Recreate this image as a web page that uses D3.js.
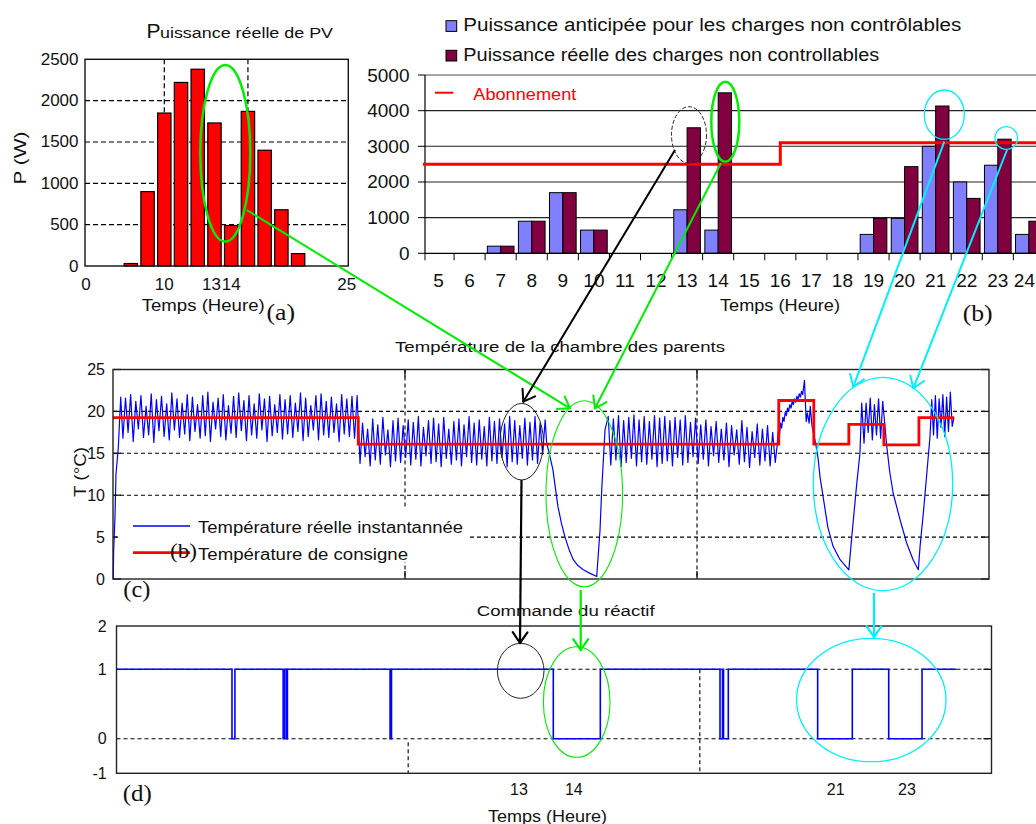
<!DOCTYPE html>
<html><head><meta charset="utf-8">
<script src="https://cdnjs.cloudflare.com/ajax/libs/d3/7.8.5/d3.min.js"></script>
<style>
body{margin:0;background:#fff;}
svg{display:block;}
text{font-family:"Liberation Sans",Arial,sans-serif;fill:#111;}
</style></head><body>
<svg id="chart" width="1036" height="824"></svg>
<script>
// ---------------- DATA ----------------
// (a) Puissance réelle de PV
const pvHours = [8,9,10,11,12,13,14,15,16,17,18];
const pvPower = [30,900,1850,2220,2380,1730,490,1870,1400,680,150];
const pvYTicks = [0,500,1000,1500,2000,2500];
const pvGridHours = [10,15];
const pvXTickHours = [10,13,14];
const pvEdgeLabels = ["0","25"];

// (b) Charges non contrôlables
const loadHours = [5,6,7,8,9,10,11,12,13,14,15,16,17,18,19,20,21,22,23,24];
const loadForecast = [0,0,200,900,1700,650,0,0,1220,650,0,0,0,0,530,980,3000,2000,2470,530];
const loadActual   = [0,0,200,900,1700,650,0,0,3520,4500,0,0,0,0,980,2430,4130,1540,3200,900];
const aboHours  = [4.5,16,16,24.5];
const aboValues = [2500,2500,3100,3100];
const loadYTicks = [0,1000,2000,3000,4000,5000];

// (c) Température de la chambre des parents (time in minutes)
const tempYTicks = [0,5,10,15,20,25];
const tempXGrid = [500,1000];
const tempStart = [[0,0],[0.5,0],[1.1,3.4],[3.4,7.4],[5.1,12.5],[9.1,15.7],[13.2,21.7]];
const seg1Span = [17,418];
const seg1Troughs = [16.8,17.5,16.4,17.9,16.9,17.2,16.3,17.7,17.0,16.6,17.8,16.9,17.3,16.5,17.6,16.8,17.1,16.4,17.9,17.0,16.6,17.4,16.9,17.7,16.5,17.2,16.8,17.8,16.4,17.1,17.5,16.7,17.3,16.9,17.6,16.5,17.0,17.8,16.6,17.2,16.9,17.5,16.4,17.3,17.0,16.8];
const seg1Peaks   = [21.6,22.0,21.2,21.9,20.6,22.1,21.4,21.8,20.9,22.2,21.5,21.0,22.0,21.7,20.8,21.9,22.3,21.1,21.6,22.0,20.7,21.8,22.2,21.3,21.9,20.9,22.1,21.5,21.8,20.8,22.0,21.4,21.9,21.0,22.2,21.6,20.7,21.9,22.1,21.2,21.7,20.9,22.0,21.5,21.8,21.9];
const seg2Span = [423,740];
const seg2Troughs = [13.8,14.6,13.5,14.2,13.7,14.8,13.4,14.1,13.9,14.5,13.6,14.3,13.5,14.7,13.8,14.0,13.4,14.4,13.7,14.2,13.5,14.6,13.9,13.6,14.3,13.5,14.1,13.8,14.5,13.4,14.0,13.7,14.4,13.6,14.2,13.8,14.9];
const seg2Peaks   = [18.6,17.9,19.1,18.4,19.3,17.8,18.9,19.2,18.3,19.0,18.7,19.4,18.1,18.9,19.2,18.5,19.3,17.9,18.8,19.1,18.4,19.4,18.6,19.0,18.2,19.3,18.8,19.1,18.5,19.4,18.9,18.3,19.2,18.7,19.4,18.6,19.0];
const tempFall1 = [[742.6,16.2],[747,15.0],[753.4,13],[758,10.6],[762,8.6],[768,6.6],[774,5.0],[781,3.5],[788.2,2.3],[796,1.6],[805.3,1.1],[816,0.7],[828.3,0.3],[833.9,5.8],[836.8,10.6],[842.5,17.8]];
const seg3Span = [848,1134];
const seg3Peaks   = [19.4,19.1,19.5,18.9,19.3,19.6,19.0,19.4,18.8,19.5,19.2,19.4,18.9,19.3,19.0,19.5,18.7,19.2,18.4,19.0,18.2,18.8,17.9,18.6,18.3,17.8,18.9,18.1,17.6,18.5,17.9,18.3,17.5];
const seg3Troughs = [13.6,14.2,13.4,13.9,14.4,13.5,14.0,13.7,14.3,13.4,13.8,14.1,13.5,14.5,13.6,13.9,14.6,13.8,14.3,13.5,14.7,13.9,14.2,13.4,14.8,13.7,14.0,13.3,14.5,13.6,14.1,13.5,13.9];
const tempRamp = [[1137,15.8],[1139,17.6],[1141,16.9],[1143,18.6],[1145,18.0],[1147,19.3],[1149,18.8],[1151,19.9],[1153,19.5],[1155,20.4],[1157,20.0],[1159,20.8],[1161,20.4],[1163,21.2],[1165,20.8],[1167,21.5],[1169,21.1],[1171,21.8],[1173,21.4],[1175,22.1],[1177,21.7],[1179,22.4],[1181,22.0],[1184,23.7],[1187,18.8],[1189,19.8],[1192,18.6],[1194,20.6],[1197,18.2]];
const tempFall2 = [[1202,16.6],[1207,14.6],[1211,12.0],[1216,9.8],[1224,6.2],[1233,3.9],[1245,2.3],[1260,1.1],[1265,5.0],[1273,11],[1279,15],[1282,21]];
const seg4Span = [1286,1318];
const seg4Troughs = [16.2,17.5,16.6,17.2,16.8];
const seg4Peaks   = [21.0,21.6,20.8,21.5,21.2];
const tempFall3 = [[1325,15.8],[1330,12.8],[1336,10.2],[1348,7.0],[1359,4.3],[1370,2.3],[1379,1.1],[1382,3.9],[1388,8.2],[1393,12.2],[1399,17],[1402,21.4]];
const seg5Span = [1405,1437];
const seg5Troughs = [17.2,16.8,18.1,17.0,17.6,18.2];
const seg5Peaks   = [21.9,21.5,22.0,21.7,22.3];
const tempEnd = [[1440,19.3]];
const setTimes  = [0,420,1140,1200,1260,1320,1380,1440];
const setValues = [19.25,16.1,21.3,16.1,18.45,16.0,19.25,19.25];

// (d) Commande du réactif
const cmdOffStart = [198,285.7,291.7,469,748.8,1034.6,1040.6,1202,1323.8];
const cmdOffEnd   = [203,288.5,293,471.4,829.4,1038.9,1048.8,1261.4,1380.9];
const cmdEndTime = 1440;
const cmdYTicks = [-1,0,1,2];
const cmdTickMinutes = [690,784,1233,1355];
const cmdTickLabels = ["13","14","21","23"];

// ---------------- DRAW ----------------
const svg = d3.select("#chart");
const SERIF = '"Liberation Serif","Times New Roman",serif';

function T(g, x, y, s, o = {}) {
  const t = g.append("text").attr("x", x).attr("y", y).text(s)
    .attr("font-size", o.size || 16)
    .attr("text-anchor", o.anchor || "start");
  if (o.fill) t.style("fill", o.fill);
  if (o.serif) t.style("font-family", SERIF);
  if (o.len) t.attr("textLength", o.len).attr("lengthAdjust", "spacingAndGlyphs");
  if (o.rot) t.attr("transform", `rotate(${o.rot},${x},${y})`);
  if (o.mid) t.attr("dominant-baseline", "central");
  return t;
}
function zip(a, b) { const r = []; for (let i = 0; i < Math.max(a.length, b.length); i++) { if (i < a.length) r.push(a[i]); if (i < b.length) r.push(b[i]); } return r; }
function seg(span, vals) { const n = vals.length; return vals.map((v, i) => [span[0] + i * (span[1] - span[0]) / (n - 1), v]); }

// ===== (a) =====
const A = {l:85, r:348.3, t:59.3, b:266};
const xa = d3.scaleLinear().domain([5.26, 21.0]).range([A.l, A.r]);
const ya = d3.scaleLinear().domain([0, 2500]).range([A.b, A.t]);
const ga = svg.append("g");
ga.selectAll(".hg").data(pvYTicks.filter(v => v > 0 && v < 2500)).join("line")
  .attr("x1", A.l).attr("x2", A.r).attr("y1", d => ya(d)).attr("y2", d => ya(d))
  .attr("stroke", "#000").attr("stroke-width", 1.2).attr("stroke-dasharray", "5,3");
ga.selectAll(".vg").data(pvGridHours).join("line")
  .attr("x1", d => xa(d)).attr("x2", d => xa(d)).attr("y1", A.t).attr("y2", A.b)
  .attr("stroke", "#000").attr("stroke-width", 1.2).attr("stroke-dasharray", "5,3");
ga.selectAll(".bar").data(pvHours).join("rect")
  .attr("x", h => xa(h - 0.4)).attr("width", xa(0.8) - xa(0))
  .attr("y", (h, i) => ya(pvPower[i])).attr("height", (h, i) => ya(0) - ya(pvPower[i]))
  .attr("fill", "#ff0000").attr("stroke", "#000").attr("stroke-width", 1.2);
ga.append("rect").attr("x", A.l).attr("y", A.t).attr("width", A.r - A.l).attr("height", A.b - A.t)
  .attr("fill", "none").attr("stroke", "#111").attr("stroke-width", 1.4);
pvYTicks.forEach(v => T(ga, 78.5, ya(v), String(v), {size:17, anchor:"end", mid:true}));
pvXTickHours.forEach(h => T(ga, xa(h) + (h === 13 ? -3 : 0), 290, String(h), {size:17, anchor:"middle"}));
T(ga, A.l + 1, 290, pvEdgeLabels[0], {size:17, anchor:"middle"});
T(ga, A.r - 1.5, 290, pvEdgeLabels[1], {size:17, anchor:"middle"});
T(ga, 146.5, 37.5, "P", {size:21});
T(ga, 160, 37.5, "uissance réelle de PV", {size:15.5, len:173});
T(ga, 26, 158, "P (W)", {size:16, anchor:"middle", rot:-90, len:53});
T(ga, 141.7, 311, "Temps (Heure)", {size:16, len:123});
T(ga, 266.5, 320, "(a)", {size:23, serif:true, len:28.5});

// ===== (b) =====
const B = {t:75, b:253.3, axis:425};
const xb = d3.scaleBand().domain(loadHours).range([423, 423 + 20 * 31.07]).padding(0);
const xbSub = d3.scaleBand().domain(["f", "a"]).range([2.2, xb.bandwidth() - 2.2]).padding(0);
const xbLin = d3.scaleLinear().domain([4.5, 24.5]).range(xb.range());
const yb = d3.scaleLinear().domain([0, 5000]).range([B.b, B.t]);
const gb = svg.append("g");
gb.selectAll(".hg").data(loadYTicks.filter(v => v > 0)).join("line")
  .attr("x1", B.axis).attr("x2", 1036).attr("y1", d => yb(d)).attr("y2", d => yb(d))
  .attr("stroke", d => d === 5000 ? "#8a8a8a" : "#222").attr("stroke-width", d => d === 5000 ? 1.6 : 1.1);
const barsF = loadHours.map((h, i) => ({h, v: loadForecast[i], k: "f"}));
const barsA = loadHours.map((h, i) => ({h, v: loadActual[i], k: "a"}));
gb.selectAll(".bb").data(barsF.concat(barsA).filter(d => d.v > 0)).join("rect")
  .attr("x", d => xb(d.h) + xbSub(d.k)).attr("width", xbSub.bandwidth())
  .attr("y", d => yb(d.v)).attr("height", d => yb(0) - yb(d.v))
  .attr("fill", d => d.k === "f" ? "#8080ff" : "#800040").attr("stroke", "#000").attr("stroke-width", 1);
gb.append("line").attr("x1", B.axis).attr("x2", B.axis).attr("y1", B.t).attr("y2", B.b).attr("stroke", "#000").attr("stroke-width", 1.2);
gb.append("line").attr("x1", B.axis).attr("x2", 1036).attr("y1", B.b).attr("y2", B.b).attr("stroke", "#000").attr("stroke-width", 1.2);
loadYTicks.forEach(v => {
  gb.append("line").attr("x1", B.axis - 7).attr("x2", B.axis).attr("y1", yb(v)).attr("y2", yb(v)).attr("stroke", "#000");
  T(gb, 409.5, yb(v), String(v), {size:19, anchor:"end", mid:true});
});
loadHours.forEach((h, i) => {
  const xe = i === 0 ? B.axis : xb(h);
  gb.append("line").attr("x1", xe).attr("x2", xe).attr("y1", B.b).attr("y2", B.b + 7).attr("stroke", "#000");
  const cx = xb(h) + xb.bandwidth() / 2;
  if (cx + 11 > 1035) T(gb, 1035, 287, String(h), {size:19, anchor:"end"});
  else T(gb, cx, 287, String(h), {size:19, anchor:"middle"});
});
gb.append("path").attr("d", d3.line().x(d => xbLin(d[0])).y(d => yb(d[1]))(aboHours.map((h, i) => [h, aboValues[i]])))
  .attr("fill", "none").attr("stroke", "#ff0000").attr("stroke-width", 3);
// legend
gb.append("rect").attr("x", 446).attr("y", 20.7).attr("width", 10.7).attr("height", 10.7).attr("fill", "#8080ff").attr("stroke", "#000");
gb.append("rect").attr("x", 446).attr("y", 50.3).attr("width", 10.7).attr("height", 10.7).attr("fill", "#800040").attr("stroke", "#000");
T(gb, 463.3, 31, "Puissance anticipée pour les charges non contrôlables", {size:18, len:498});
T(gb, 463.3, 61, "Puissance réelle des charges non controllables", {size:18, len:416});
gb.append("line").attr("x1", 435).attr("x2", 453.3).attr("y1", 92.7).attr("y2", 92.7).attr("stroke", "#ff0000").attr("stroke-width", 2);
T(gb, 473.3, 100, "Abonnement", {size:17, fill:"#ff0000", len:103});
T(gb, 720, 311, "Temps (Heure)", {size:17, len:120});
T(gb, 962.7, 321, "(b)", {size:23, serif:true, len:30});

// ===== (c) =====
const C = {l:113, r:989, t:369.5, b:579};
const xc = d3.scaleLinear().domain([0, 1500]).range([C.l, C.r]);
const yc = d3.scaleLinear().domain([0, 25]).range([C.b, C.t]);
const gc = svg.append("g");
gc.selectAll(".hg").data(tempYTicks.filter(v => v > 0 && v < 25)).join("line")
  .attr("x1", C.l).attr("x2", C.r).attr("y1", d => yc(d)).attr("y2", d => yc(d))
  .attr("stroke", "#000").attr("stroke-width", 1.1).attr("stroke-dasharray", "4,3");
gc.selectAll(".vg").data(tempXGrid).join("line")
  .attr("x1", d => xc(d)).attr("x2", d => xc(d)).attr("y1", C.t).attr("y2", C.b)
  .attr("stroke", "#000").attr("stroke-width", 1.1).attr("stroke-dasharray", "4,3");
tempYTicks.forEach(v => {
  gc.append("line").attr("x1", C.r - 8).attr("x2", C.r).attr("y1", yc(v)).attr("y2", yc(v)).attr("stroke", "#111").attr("stroke-width", 1.3);
  gc.append("line").attr("x1", C.l).attr("x2", C.l + 8).attr("y1", yc(v)).attr("y2", yc(v)).attr("stroke", "#111").attr("stroke-width", 1.3);
  T(gc, 105, yc(v), String(v), {size:16, anchor:"end", mid:true});
});
tempXGrid.forEach(m => {
  gc.append("line").attr("x1", xc(m)).attr("x2", xc(m)).attr("y1", C.b - 8).attr("y2", C.b).attr("stroke", "#111").attr("stroke-width", 1.3);
  gc.append("line").attr("x1", xc(m)).attr("x2", xc(m)).attr("y1", C.t).attr("y2", C.t + 8).attr("stroke", "#111").attr("stroke-width", 1.3);
});
gc.append("rect").attr("x", 118).attr("y", 508).attr("width", 350).attr("height", 54).attr("fill", "#fff");
const tempPts = [].concat(
  tempStart,
  seg(seg1Span, zip(seg1Troughs, seg1Peaks)),
  seg(seg2Span, zip(seg2Troughs, seg2Peaks)),
  tempFall1,
  seg(seg3Span, zip(seg3Peaks, seg3Troughs)),
  tempRamp, tempFall2,
  seg(seg4Span, zip(seg4Troughs, seg4Peaks)),
  tempFall3,
  seg(seg5Span, zip(seg5Troughs, seg5Peaks)),
  tempEnd);
gc.append("path").attr("d", d3.line().x(d => xc(d[0])).y(d => yc(d[1]))(tempPts))
  .attr("fill", "none").attr("stroke", "#0000ff").attr("stroke-width", 1.2).attr("stroke-linejoin", "round");
gc.append("path").attr("d", d3.line().curve(d3.curveStepAfter).x(d => xc(d[0])).y(d => yc(d[1]))(setTimes.map((t, i) => [t, setValues[i]])))
  .attr("fill", "none").attr("stroke", "#ff0000").attr("stroke-width", 2.8);
gc.append("rect").attr("x", C.l).attr("y", C.t).attr("width", C.r - C.l).attr("height", C.b - C.t)
  .attr("fill", "none").attr("stroke", "#222").attr("stroke-width", 1.4);
gc.append("line").attr("x1", 133).attr("x2", 190).attr("y1", 526).attr("y2", 526).attr("stroke", "#0000ff").attr("stroke-width", 1.3);
gc.append("line").attr("x1", 133).attr("x2", 190).attr("y1", 552.7).attr("y2", 552.7).attr("stroke", "#ff0000").attr("stroke-width", 2.8);
T(gc, 198, 533, "Température réelle instantannée", {size:16, len:265});
T(gc, 198, 559.5, "Température de consigne", {size:16, len:210});
T(gc, 170, 558, "(b)", {size:21, serif:true, len:27});
T(gc, 123.3, 597, "(c)", {size:23, serif:true, len:27});
T(gc, 395, 352, "Température de la chambre des parents", {size:15.5, len:330});
T(gc, 86, 472, "T (°C)", {size:16, anchor:"middle", rot:-90, len:50});

// ===== (d) =====
const D = {l:116.5, r:991.5, t:626, b:773.3};
const xd = d3.scaleLinear().domain([0, 1500]).range([D.l, D.r]);
const yd = d3.scaleLinear().domain([-1, 0, 1, 2]).range([773.3, 738.7, 669.3, 626]);
const gd = svg.append("g");
[0, 1].forEach(v => gd.append("line").attr("x1", D.l).attr("x2", D.r).attr("y1", yd(v)).attr("y2", yd(v))
  .attr("stroke", "#000").attr("stroke-width", 1.1).attr("stroke-dasharray", "4,3"));
gd.append("line").attr("x1", xd(500)).attr("x2", xd(500)).attr("y1", yd(-0.1)).attr("y2", D.b)
  .attr("stroke", "#000").attr("stroke-width", 1.1).attr("stroke-dasharray", "4,3");
gd.append("line").attr("x1", xd(1000)).attr("x2", xd(1000)).attr("y1", yd(1)).attr("y2", D.b)
  .attr("stroke", "#000").attr("stroke-width", 1.1).attr("stroke-dasharray", "4,3");
[0, 1].forEach(v => {
  gd.append("line").attr("x1", D.r - 8).attr("x2", D.r).attr("y1", yd(v)).attr("y2", yd(v)).attr("stroke", "#111").attr("stroke-width", 1.3);
});
const cmdPts = [[0, 1]];
cmdOffStart.forEach((a, i) => { const b = cmdOffEnd[i]; cmdPts.push([a, 1], [a, 0], [b, 0], [b, 1]); });
cmdPts.push([cmdEndTime, 1]);
gd.append("path").attr("d", d3.line().x(d => xd(d[0])).y(d => yd(d[1]))(cmdPts))
  .attr("fill", "none").attr("stroke", "#0000ff").attr("stroke-width", 1.6);
gd.append("rect").attr("x", D.l).attr("y", D.t).attr("width", D.r - D.l).attr("height", D.b - D.t)
  .attr("fill", "none").attr("stroke", "#222").attr("stroke-width", 1.4);
cmdYTicks.forEach(v => T(gd, 106.7, yd(v), String(v), {size:16, anchor:"end", mid:true}));
cmdTickMinutes.forEach((m, i) => T(gd, xd(m), 795, cmdTickLabels[i], {size:16, anchor:"middle"}));
T(gd, 476.7, 616, "Commande du réactif", {size:15.5, len:178});
T(gd, 488, 822, "Temps (Heure)", {size:16, len:119});
T(gd, 122.7, 801, "(d)", {size:23, serif:true, len:29});

// ===== annotations (overlay) =====
const gn = svg.append("g").attr("fill", "none");
function ell(cx, cy, rx, ry, col, w, dash) {
  const e = gn.append("ellipse").attr("cx", cx).attr("cy", cy).attr("rx", rx).attr("ry", ry)
    .attr("stroke", col).attr("stroke-width", w).attr("fill", "none");
  if (dash) e.attr("stroke-dasharray", dash);
}
function arrow(x0, y0, x1, y1, col, w) {
  gn.append("line").attr("x1", x0).attr("y1", y0).attr("x2", x1).attr("y2", y1).attr("stroke", col).attr("stroke-width", w);
  const a = Math.atan2(y1 - y0, x1 - x0);
  [-1, 1].forEach(s => {
    const b = a + Math.PI + s * 0.6;
    gn.append("line").attr("x1", x1).attr("y1", y1).attr("x2", x1 + 13 * Math.cos(b)).attr("y2", y1 + 13 * Math.sin(b))
      .attr("stroke", col).attr("stroke-width", w).attr("stroke-linecap", "round");
  });
}
const GRN = "#00ee00", CYN = "#00f0ff";
ell(225.3, 153.3, 25, 88.3, GRN, 2.5);
ell(689, 135, 17.5, 28.3, "#222", 1, "4,2");
ell(725.3, 121.7, 14, 40, GRN, 2.5);
ell(944.3, 114.7, 20, 24.7, CYN, 1.3);
ell(1006.3, 138, 11.3, 11.3, CYN, 1.3);
ell(521.7, 441.7, 21.7, 38.3, "#222", 1);
ell(584.3, 493.7, 38.3, 93, GRN, 1.1);
ell(883, 484, 69.7, 106.7, CYN, 1.3);
ell(520.7, 670.8, 23.3, 27.5, "#222", 1);
ell(576.7, 702, 33.3, 55.3, GRN, 1.1);
ell(871.3, 700, 74.7, 61.7, CYN, 1.3);
arrow(246.7, 210, 570, 408.3, GRN, 2);
arrow(675, 150, 523.3, 401.7, "#000", 2);
arrow(721, 163, 595, 408.3, GRN, 2);
arrow(944.3, 141.7, 853.3, 386.7, CYN, 2);
arrow(1007, 150, 913.3, 388.3, CYN, 2);
arrow(521.5, 480, 520, 643, "#000", 2.2);
arrow(580.7, 590, 580.7, 650, GRN, 2.2);
arrow(874, 593, 874, 637, CYN, 2.2);
</script></body></html>
